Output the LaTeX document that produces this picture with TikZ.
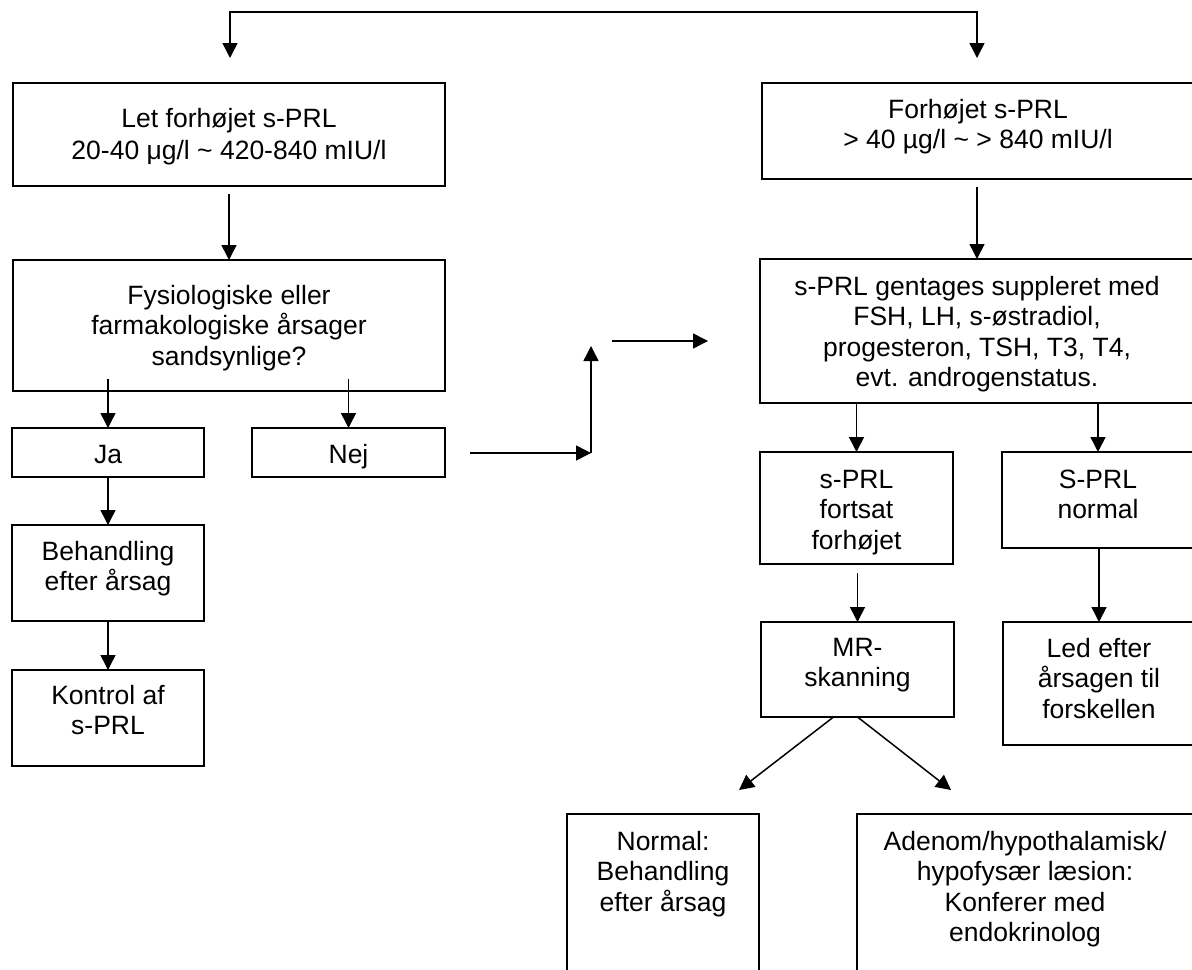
\documentclass[tikz,border=0pt]{standalone}
\usepackage{fontspec}
\setmainfont{Liberation Sans}
\usetikzlibrary{arrows.meta}
\begin{document}
\begin{tikzpicture}[x=0.5pt,y=-0.5pt,
  >={Triangle[length=7.5pt,width=7.5pt]},
  box/.style={draw, line width=0.8pt, inner sep=0pt, outer sep=0pt},
  bigbox/.style={box, line width=1pt},
  txt/.style={align=center, inner sep=0pt, anchor=base, font=\fontsize{13.25pt}{15.25pt}\selectfont},
  arr/.style={line width=0.75pt, ->},
]
\useasboundingbox (0,0) rectangle (1192,969);
\clip (0,0) rectangle (1192,969);

% boxes
\node[bigbox, minimum width=216pt, minimum height=51.5pt] (b1) at (229,134.5) {};
\node[bigbox, minimum width=216pt, minimum height=65.5pt] (b2) at (229,325.5) {};
\node[box, minimum width=96pt, minimum height=24.5pt] (ja) at (108,452.5) {};
\node[box, minimum width=96.5pt, minimum height=24.5pt] (nej) at (348.5,452.5) {};
\node[box, minimum width=96pt, minimum height=48pt] (beh) at (108,573) {};
\node[box, minimum width=96pt, minimum height=48pt] (kon) at (108,718) {};
\node[box, minimum width=216pt, minimum height=48pt] (f1) at (978,131) {};
\node[box, minimum width=217pt, minimum height=72pt] (g) at (977,331) {};
\node[box, minimum width=96.5pt, minimum height=56pt] (fo) at (856.5,508) {};
\node[box, minimum width=96pt, minimum height=48pt] (no) at (1098,500) {};
\node[box, minimum width=96.5pt, minimum height=47.5pt] (mr) at (857.5,669.5) {};
\node[box, minimum width=96pt, minimum height=61.5pt] (led) at (1099,683.5) {};
\node[box, minimum width=96pt, minimum height=88pt] (nm) at (663,902) {};
\node[box, minimum width=168pt, minimum height=88pt] (ad) at (1025,902) {};

% texts (anchor = baseline of the last line)
\node[txt] (b1t) at (229,159.5) {Let forhøjet s-PRL\\[1pt]20-40 μg/l \textasciitilde{} 420-840 mIU/l};
\node[txt] (b2t) at (229,365) {Fysiologiske eller\\farmakologiske årsager\\sandsynlige?};
\node[txt] (jat) at (108,463) {Ja};
\node[txt] (nejt) at (348.5,463) {Nej};
\node[txt] (beht) at (108,590.5) {Behandling\\efter årsag};
\node[txt] (kont) at (108,734.5) {Kontrol af\\s-PRL};
\node[txt] (f1t) at (978,148.5) {Forhøjet s-PRL\\> 40 µg/l \textasciitilde{} > 840 mIU/l};
\node[txt] (gt) at (977,386.5) {s-PRL gentages suppleret med\\FSH, LH, s-østradiol,\\progesteron, TSH, T3, T4,\\evt. androgenstatus.};
\node[txt] (fot) at (856.5,549) {s-PRL\\fortsat\\forhøjet};
\node[txt] (nott) at (1098,518.5) {S-PRL\\normal};
\node[txt] (mrt) at (857.5,686.5) {MR-\\skanning};
\node[txt] (ledt) at (1099,718) {Led efter\\årsagen til\\forskellen};
\node[txt] (nmt) at (663,911) {Normal:\\Behandling\\efter årsag};
\node[txt] (adt) at (1025,941.5) {Adenom/hypothalamisk/\\hypofysær læsion:\\Konferer med\\endokrinolog};

% free coordinates
\coordinate (tl) at (230,58);
\coordinate (tm) at (600,12);
\coordinate (tr) at (977,58);
\coordinate (n1) at (470,453);
\coordinate (n2) at (591,453);
\coordinate (n3) at (591,346);
\coordinate (n4) at (612,341);
\coordinate (n5) at (708,341);
\coordinate (d1) at (739,790);
\coordinate (d2) at (951,790);

% connectors
\draw[line width=0.75pt, <->] (tl) |- (tm) -| (tr);
\draw[arr] ([yshift=-4pt]b1.south) -- (b2.north);
\draw[arr] ([yshift=-4pt]g.north |- f1.south) -- (g.north);
\draw[arr] ([yshift=6pt]ja.north |- b2.south) -- (ja.north);
\draw[arr] ([yshift=6pt]nej.north |- b2.south) -- (nej.north);
\draw[arr] (ja.south) -- (beh.north);
\draw[arr] (beh.south) -- (kon.north);
\draw[arr] (n1) -- (n2);
\draw[arr] (n2) -- (n3);
\draw[arr] (n4) -- (n5);
\draw[arr] (g.south -| fo.north) -- (fo.north);
\draw[arr] (g.south -| no.north) -- (no.north);
\draw[arr] ([yshift=-4.5pt]mr.north |- fo.south) -- (mr.north);
\draw[arr] (led.north |- no.south) -- (led.north);
\draw[arr] ([xshift=-12pt]mr.south) -- (d1);
\draw[arr] (mr.south) -- (d2);
\end{tikzpicture}
\end{document}
